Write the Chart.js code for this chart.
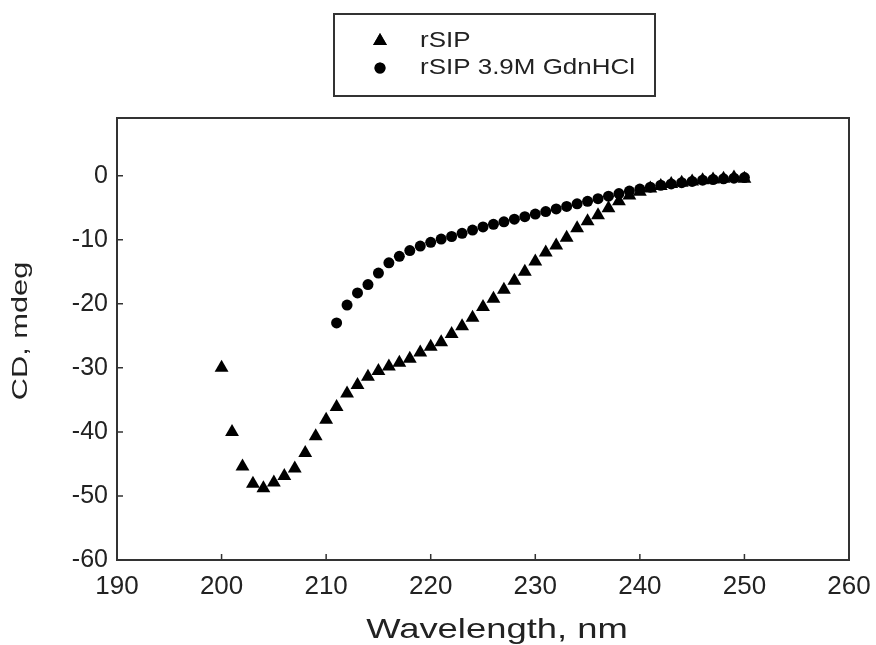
<!DOCTYPE html>
<html>
<head>
<meta charset="utf-8">
<script src="https://cdn.jsdelivr.net/npm/chart.js@4.4.1/dist/chart.umd.min.js"></script>
<style>
html,body{margin:0;padding:0;background:#fff;}
#wrap{width:876px;height:645px;position:relative;}
</style>
</head>
<body>
<div id="wrap"><canvas id="c" width="876" height="645"></canvas></div>
<script>
// ---- data ----
const rsipWavelength = [200,201,202,203,204,205,206,207,208,209,210,211,212,213,214,215,216,217,218,219,220,221,222,223,224,225,226,227,228,229,230,231,232,233,234,235,236,237,238,239,240,241,242,243,244,245,246,247,248,249,250];
const rsipCD = [-30,-40,-45.4,-48.1,-48.8,-47.9,-46.9,-45.7,-43.3,-40.7,-38.1,-36.1,-34,-32.7,-31.4,-30.5,-29.8,-29.2,-28.6,-27.6,-26.7,-26,-24.7,-23.5,-22.2,-20.5,-19.2,-17.8,-16.4,-15,-13.4,-12,-10.9,-9.7,-8.2,-7.1,-6.2,-5.1,-4,-3.1,-2.5,-2,-1.6,-1.3,-1.1,-0.9,-0.7,-0.6,-0.5,-0.3,-0.5];
const gdnWavelength = [211,212,213,214,215,216,217,218,219,220,221,222,223,224,225,226,227,228,229,230,231,232,233,234,235,236,237,238,239,240,241,242,243,244,245,246,247,248,249,250];
const gdnCD = [-23,-20.2,-18.3,-17,-15.2,-13.6,-12.6,-11.7,-11,-10.4,-9.9,-9.5,-9,-8.5,-8,-7.6,-7.2,-6.8,-6.4,-6,-5.6,-5.2,-4.8,-4.4,-4,-3.6,-3.2,-2.8,-2.4,-2.1,-1.8,-1.5,-1.3,-1.1,-0.9,-0.7,-0.6,-0.5,-0.4,-0.3];
const seriesNames = ['rSIP', 'rSIP 3.9M GdnHCl'];
const xTicks = [190,200,210,220,230,240,250,260];
const yTicks = [-60,-50,-40,-30,-20,-10,0];
const xTitle = 'Wavelength, nm';
const yTitle = 'CD, mdeg';

const toPts = (xs, ys) => xs.map((x, i) => ({x: x, y: ys[i]}));
const FONT = '"Liberation Sans", Arial, sans-serif';
const INK = '#222';

function stretchedText(ctx, text, x, y, sx, align) {
  ctx.save();
  ctx.translate(x, y);
  ctx.scale(sx, 1);
  ctx.textAlign = align;
  ctx.fillText(text, 0, 0);
  ctx.restore();
}

const framePlugin = {
  id: 'frame',
  afterDraw(chart) {
    const ctx = chart.ctx, a = chart.chartArea;
    const xs = chart.scales.x, ys = chart.scales.y;
    ctx.save();
    ctx.strokeStyle = '#333';
    ctx.lineWidth = 2;
    ctx.strokeRect(a.left, a.top, a.right - a.left, a.bottom - a.top);
    ctx.lineWidth = 1.5;
    ctx.beginPath();
    xTicks.forEach(v => { const px = xs.getPixelForValue(v); ctx.moveTo(px, a.bottom); ctx.lineTo(px, a.bottom - 6); });
    yTicks.forEach(v => { const py = ys.getPixelForValue(v); ctx.moveTo(a.left, py); ctx.lineTo(a.left + 6, py); });
    ctx.stroke();
    // axis titles
    ctx.fillStyle = INK;
    ctx.textBaseline = 'middle';
    ctx.font = '28px ' + FONT;
    stretchedText(ctx, xTitle, 497, 630, 1.3, 'center');
    ctx.save();
    ctx.translate(21, 331);
    ctx.rotate(-Math.PI / 2);
    ctx.font = '22px ' + FONT;
    stretchedText(ctx, yTitle, 0, 0, 1.4, 'center');
    ctx.restore();
    // legend box
    ctx.lineWidth = 2;
    ctx.strokeStyle = '#333';
    ctx.strokeRect(334, 14, 321, 82);
    const ds = chart.data.datasets;
    const rows = [41, 68];
    ds.forEach((d, i) => {
      Chart.helpers.drawPoint(ctx, {pointStyle: d.pointStyle, radius: d.pointStyle === 'triangle' ? 8 : 5.5, borderWidth: 0}, 380, rows[i]);
      ctx.fillStyle = '#000';
      ctx.fill();
      ctx.fillStyle = INK;
      ctx.font = '22px ' + FONT;
      stretchedText(ctx, seriesNames[i], 420, rows[i], 1.18, 'left');
    });
    ctx.restore();
  }
};

new Chart(document.getElementById('c'), {
  type: 'scatter',
  data: {
    datasets: [
      {label: seriesNames[0], data: toPts(rsipWavelength, rsipCD), pointStyle: 'triangle', pointRadius: 8, backgroundColor: '#000', borderColor: '#000', borderWidth: 0, pointHoverRadius: 8},
      {label: seriesNames[1], data: toPts(gdnWavelength, gdnCD), pointStyle: 'circle', pointRadius: 5.5, backgroundColor: '#000', borderColor: '#000', borderWidth: 0, pointHoverRadius: 5.5}
    ]
  },
  options: {
    responsive: false,
    animation: false,
    events: [],
    layout: {padding: {left: 0, right: 27, top: 118, bottom: 0}},
    plugins: {legend: {display: false}, tooltip: {enabled: false}},
    scales: {
      x: {
        type: 'linear', min: 190, max: 260,
        afterFit(s) { s.height = 85; s.paddingLeft = 0; s.paddingRight = 0; },
        afterBuildTicks(s) { s.ticks = xTicks.map(v => ({value: v})); },
        grid: {display: false, drawTicks: false},
        border: {display: false},
        ticks: {color: INK, font: {family: FONT, size: 26}, padding: 11, maxRotation: 0, autoSkip: false}
      },
      y: {
        type: 'linear', min: -60, max: 9,
        afterFit(s) { s.width = 117; s.paddingTop = 0; s.paddingBottom = 0; },
        afterBuildTicks(s) { s.ticks = yTicks.map(v => ({value: v})); },
        grid: {display: false, drawTicks: false},
        border: {display: false},
        ticks: {color: INK, font: {family: FONT, size: 25}, padding: 9, autoSkip: false}
      }
    }
  },
  plugins: [framePlugin]
});
</script>
</body>
</html>
